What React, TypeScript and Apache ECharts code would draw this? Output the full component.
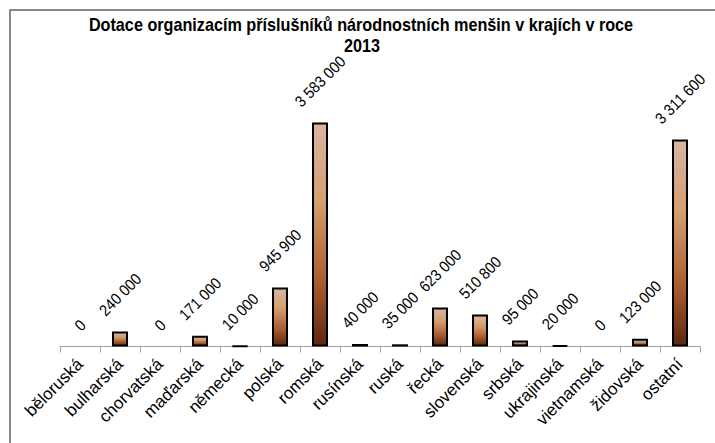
import React, { useEffect, useRef } from "react";
import * as echarts from "echarts";

const categories = [
  "běloruská",
  "bulharská",
  "chorvatská",
  "maďarská",
  "německá",
  "polská",
  "romská",
  "rusínská",
  "ruská",
  "řecká",
  "slovenská",
  "srbská",
  "ukrajinská",
  "vietnamská",
  "židovská",
  "ostatní",
];
const values = [
  0, 240000, 0, 171000, 10000, 945900, 3583000, 40000, 35000, 623000, 510800,
  95000, 20000, 0, 123000, 3311600,
];
const titleLines = [
  "Dotace organizacím příslušníků národnostních menšin v krajích v roce",
  "2013",
];
const yMax = 4000000;

const FONT = '"Liberation Sans", Arial, sans-serif';
const LABEL_SIZE = 16;
const LABEL_SCALE = 0.9;
const LABEL_GAP = 13;
const TITLE_SCALE = 0.9;

function fmt(v: number): string {
  return String(v).replace(/\B(?=(\d{3})+(?!\d))/g, " ");
}

let measureCtx: CanvasRenderingContext2D | null = null;
function textWidth(t: string, font: string): number {
  if (!measureCtx) {
    const c = document.createElement("canvas");
    measureCtx = c.getContext("2d");
  }
  if (!measureCtx) return t.length * 7;
  measureCtx.font = font;
  return measureCtx.measureText(t).width;
}

export default function App() {
  const ref = useRef<HTMLDivElement>(null);

  useEffect(() => {
    if (!ref.current) return;
    const chart = echarts.init(ref.current, undefined, { renderer: "svg" });
    const labelFont = `${LABEL_SIZE}px ${FONT}`;

    const gradient = new echarts.graphic.LinearGradient(0, 0, 0, 1, [
      { offset: 0, color: "#d8b4a2" },
      { offset: 0.35, color: "#d49e70" },
      { offset: 0.72, color: "#a85a2c" },
      { offset: 1, color: "#5a2810" },
    ]);

    chart.setOption({
      animation: false,
      backgroundColor: "#ffffff",
      graphic: [
        {
          type: "rect",
          silent: true,
          z: -10,
          shape: { x: 10, y: 10, width: 1000, height: 1000 },
          style: { fill: "none", stroke: "#888888", lineWidth: 2 },
        },
        {
          type: "text",
          silent: true,
          x: 361,
          y: 25,
          scaleX: TITLE_SCALE,
          style: {
            text: titleLines[0],
            align: "center",
            verticalAlign: "middle",
            font: `bold 18px ${FONT}`,
            fill: "#000000",
          },
        },
        {
          type: "text",
          silent: true,
          x: 362,
          y: 46,
          scaleX: TITLE_SCALE,
          style: {
            text: titleLines[1],
            align: "center",
            verticalAlign: "middle",
            font: `bold 18px ${FONT}`,
            fill: "#000000",
          },
        },
      ],
      grid: { left: 60, right: 15, top: 96.5, bottom: 96.5, containLabel: false },
      xAxis: {
        type: "category",
        data: categories,
        axisLine: { lineStyle: { color: "#a0a0a0", width: 1 } },
        axisTick: { show: true, length: 6, lineStyle: { color: "#a0a0a0" } },
        axisLabel: {
          rotate: 45,
          interval: 0,
          margin: 15,
          fontFamily: FONT,
          fontSize: 17,
          color: "#000000",
        },
      },
      yAxis: {
        type: "value",
        min: 0,
        max: yMax,
        show: false,
        splitLine: { show: false },
      },
      series: [
        {
          type: "bar",
          barWidth: 16,
          data: values.map((v) =>
            v === 0 ? { value: v, itemStyle: { borderWidth: 0 } } : v
          ),
          itemStyle: {
            color: gradient,
            borderColor: "#000000",
            borderWidth: 2,
          },
        },
        {
          type: "custom",
          clip: false,
          encode: { x: 0, y: 1 },
          data: values.map((v, i) => [i, v]),
          renderItem: (params: any, api: any) => {
            const idx = api.value(0);
            const v = api.value(1);
            const pt = api.coord([idx, v]);
            const text = fmt(v);
            const L = textWidth(text, labelFont) * LABEL_SCALE;
            const cy = pt[1] - LABEL_GAP - 0.354 * (L + LABEL_SIZE);
            return {
              type: "text",
              x: pt[0],
              y: cy,
              rotation: Math.PI / 4,
              scaleX: LABEL_SCALE,
              style: {
                text,
                x: 0,
                y: 0,
                align: "center",
                verticalAlign: "middle",
                font: labelFont,
                fill: "#000000",
              },
            };
          },
        },
      ],
    });

    return () => chart.dispose();
  }, []);

  return (
    <div
      ref={ref}
      style={{
        position: "fixed",
        left: 0,
        top: 0,
        width: 715,
        height: 443,
        background: "#ffffff",
      }}
    />
  );
}
